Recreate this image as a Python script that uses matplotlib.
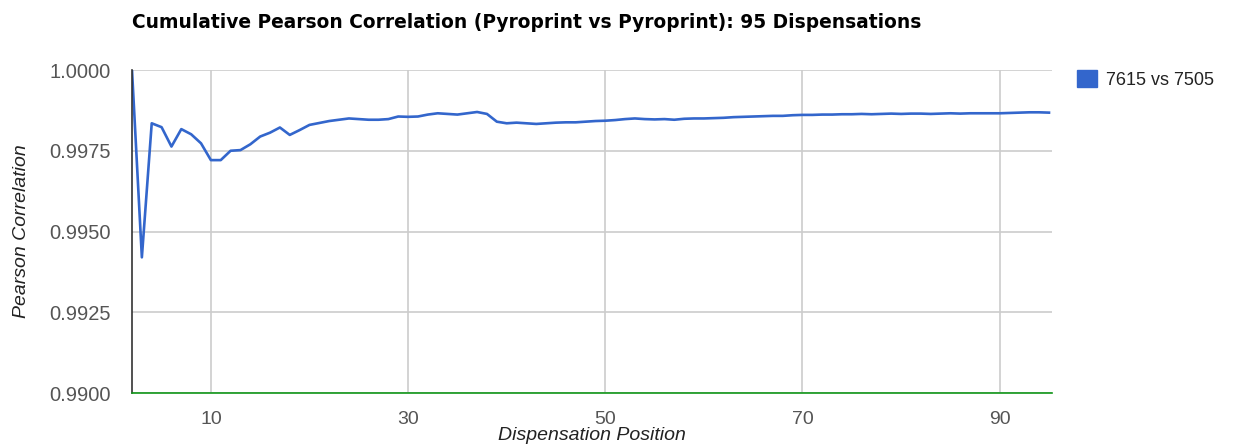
import matplotlib.pyplot as plt
from matplotlib.patches import Patch

# cumulative pearson correlation by dispensation position
positions = list(range(2, 96))
correlation = [
    1.0000, 0.99420, 0.99835, 0.99823, 0.99763, 0.99817, 0.99801, 0.99773, 0.99721,
    0.99721, 0.99750, 0.99752, 0.99770, 0.99794, 0.99806, 0.99822, 0.99799, 0.99814,
    0.99830, 0.99836, 0.99842, 0.99846, 0.99850, 0.99848, 0.99846, 0.99846, 0.99848,
    0.99856, 0.99855, 0.99856, 0.99862, 0.99866, 0.99864, 0.99862, 0.99866, 0.99870,
    0.99864, 0.99840, 0.99835, 0.99837, 0.99835, 0.99833, 0.99835, 0.99837, 0.99838,
    0.99838, 0.99840, 0.99842, 0.99843, 0.99845, 0.99848, 0.99850, 0.99848, 0.99847,
    0.99848, 0.99846, 0.99849, 0.99850, 0.99850, 0.99851, 0.99852, 0.99854, 0.99855,
    0.99856, 0.99857, 0.99858, 0.99858, 0.99860, 0.99861, 0.99861, 0.99862, 0.99862,
    0.99863, 0.99863, 0.99864, 0.99863, 0.99864, 0.99865, 0.99864, 0.99865, 0.99865,
    0.99864, 0.99865, 0.99866, 0.99865, 0.99866, 0.99866, 0.99866, 0.99866, 0.99867,
    0.99868, 0.99869, 0.99869, 0.99868,
]
series_name = "7615 vs 7505"
x_ticks = [10, 30, 50, 70, 90]
y_ticks = [0.9900, 0.9925, 0.9950, 0.9975, 1.0000]

plt.rcParams['font.family'] = ['Liberation Sans', 'DejaVu Sans']
narrow = ['Liberation Sans Narrow', 'Liberation Sans', 'DejaVu Sans']

fig = plt.figure(figsize=(12.36, 4.47), dpi=100)
ax = fig.add_axes([0.1068, 0.1208, 0.7443, 0.7226])

ax.plot(positions, correlation, color='#3366cc', linewidth=1.9, label=series_name)

ax.set_xlim(2, 95.3)
ax.set_ylim(0.99, 1.0)
ax.set_xticks(x_ticks)
ax.set_yticks(y_ticks)
ax.set_yticklabels([f"{v:.4f}" for v in y_ticks], fontsize=14.5, color='#555555')
ax.set_xticklabels([str(v) for v in x_ticks], fontsize=14, color='#555555', family=narrow)
ax.tick_params(axis='x', length=0, pad=13)
ax.tick_params(axis='y', length=0, pad=15)

ax.grid(True, color='#cccccc', linewidth=1.2)
ax.set_axisbelow(True)
for side in ['top', 'right']:
    ax.spines[side].set_visible(False)
ax.spines['left'].set_color('#333333')
ax.spines['left'].set_linewidth(1.2)
ax.spines['bottom'].set_color('#109618')
ax.spines['bottom'].set_linewidth(1.2)

ax.set_xlabel("Dispensation Position", fontsize=14, style='italic', color='#222222',
              family=narrow, labelpad=-1)
ax.set_ylabel("Pearson Correlation", fontsize=14, style='italic', color='#222222', labelpad=14)

fig.text(0.1068, 0.95, "Cumulative Pearson Correlation (Pyroprint vs Pyroprint): 95 Dispensations",
         fontsize=13.4, fontweight='bold', color='#000000', va='center',
         family=['DejaVu Sans'])

ax.legend(handles=[Patch(color='#3366cc', label=series_name)], loc='upper left',
          bbox_to_anchor=(1.01, 1.05), frameon=False, fontsize=13,
          handlelength=1.1, handleheight=1.1, handletextpad=0.5, labelcolor='#222222')

fig.savefig("out.png", dpi=100)
